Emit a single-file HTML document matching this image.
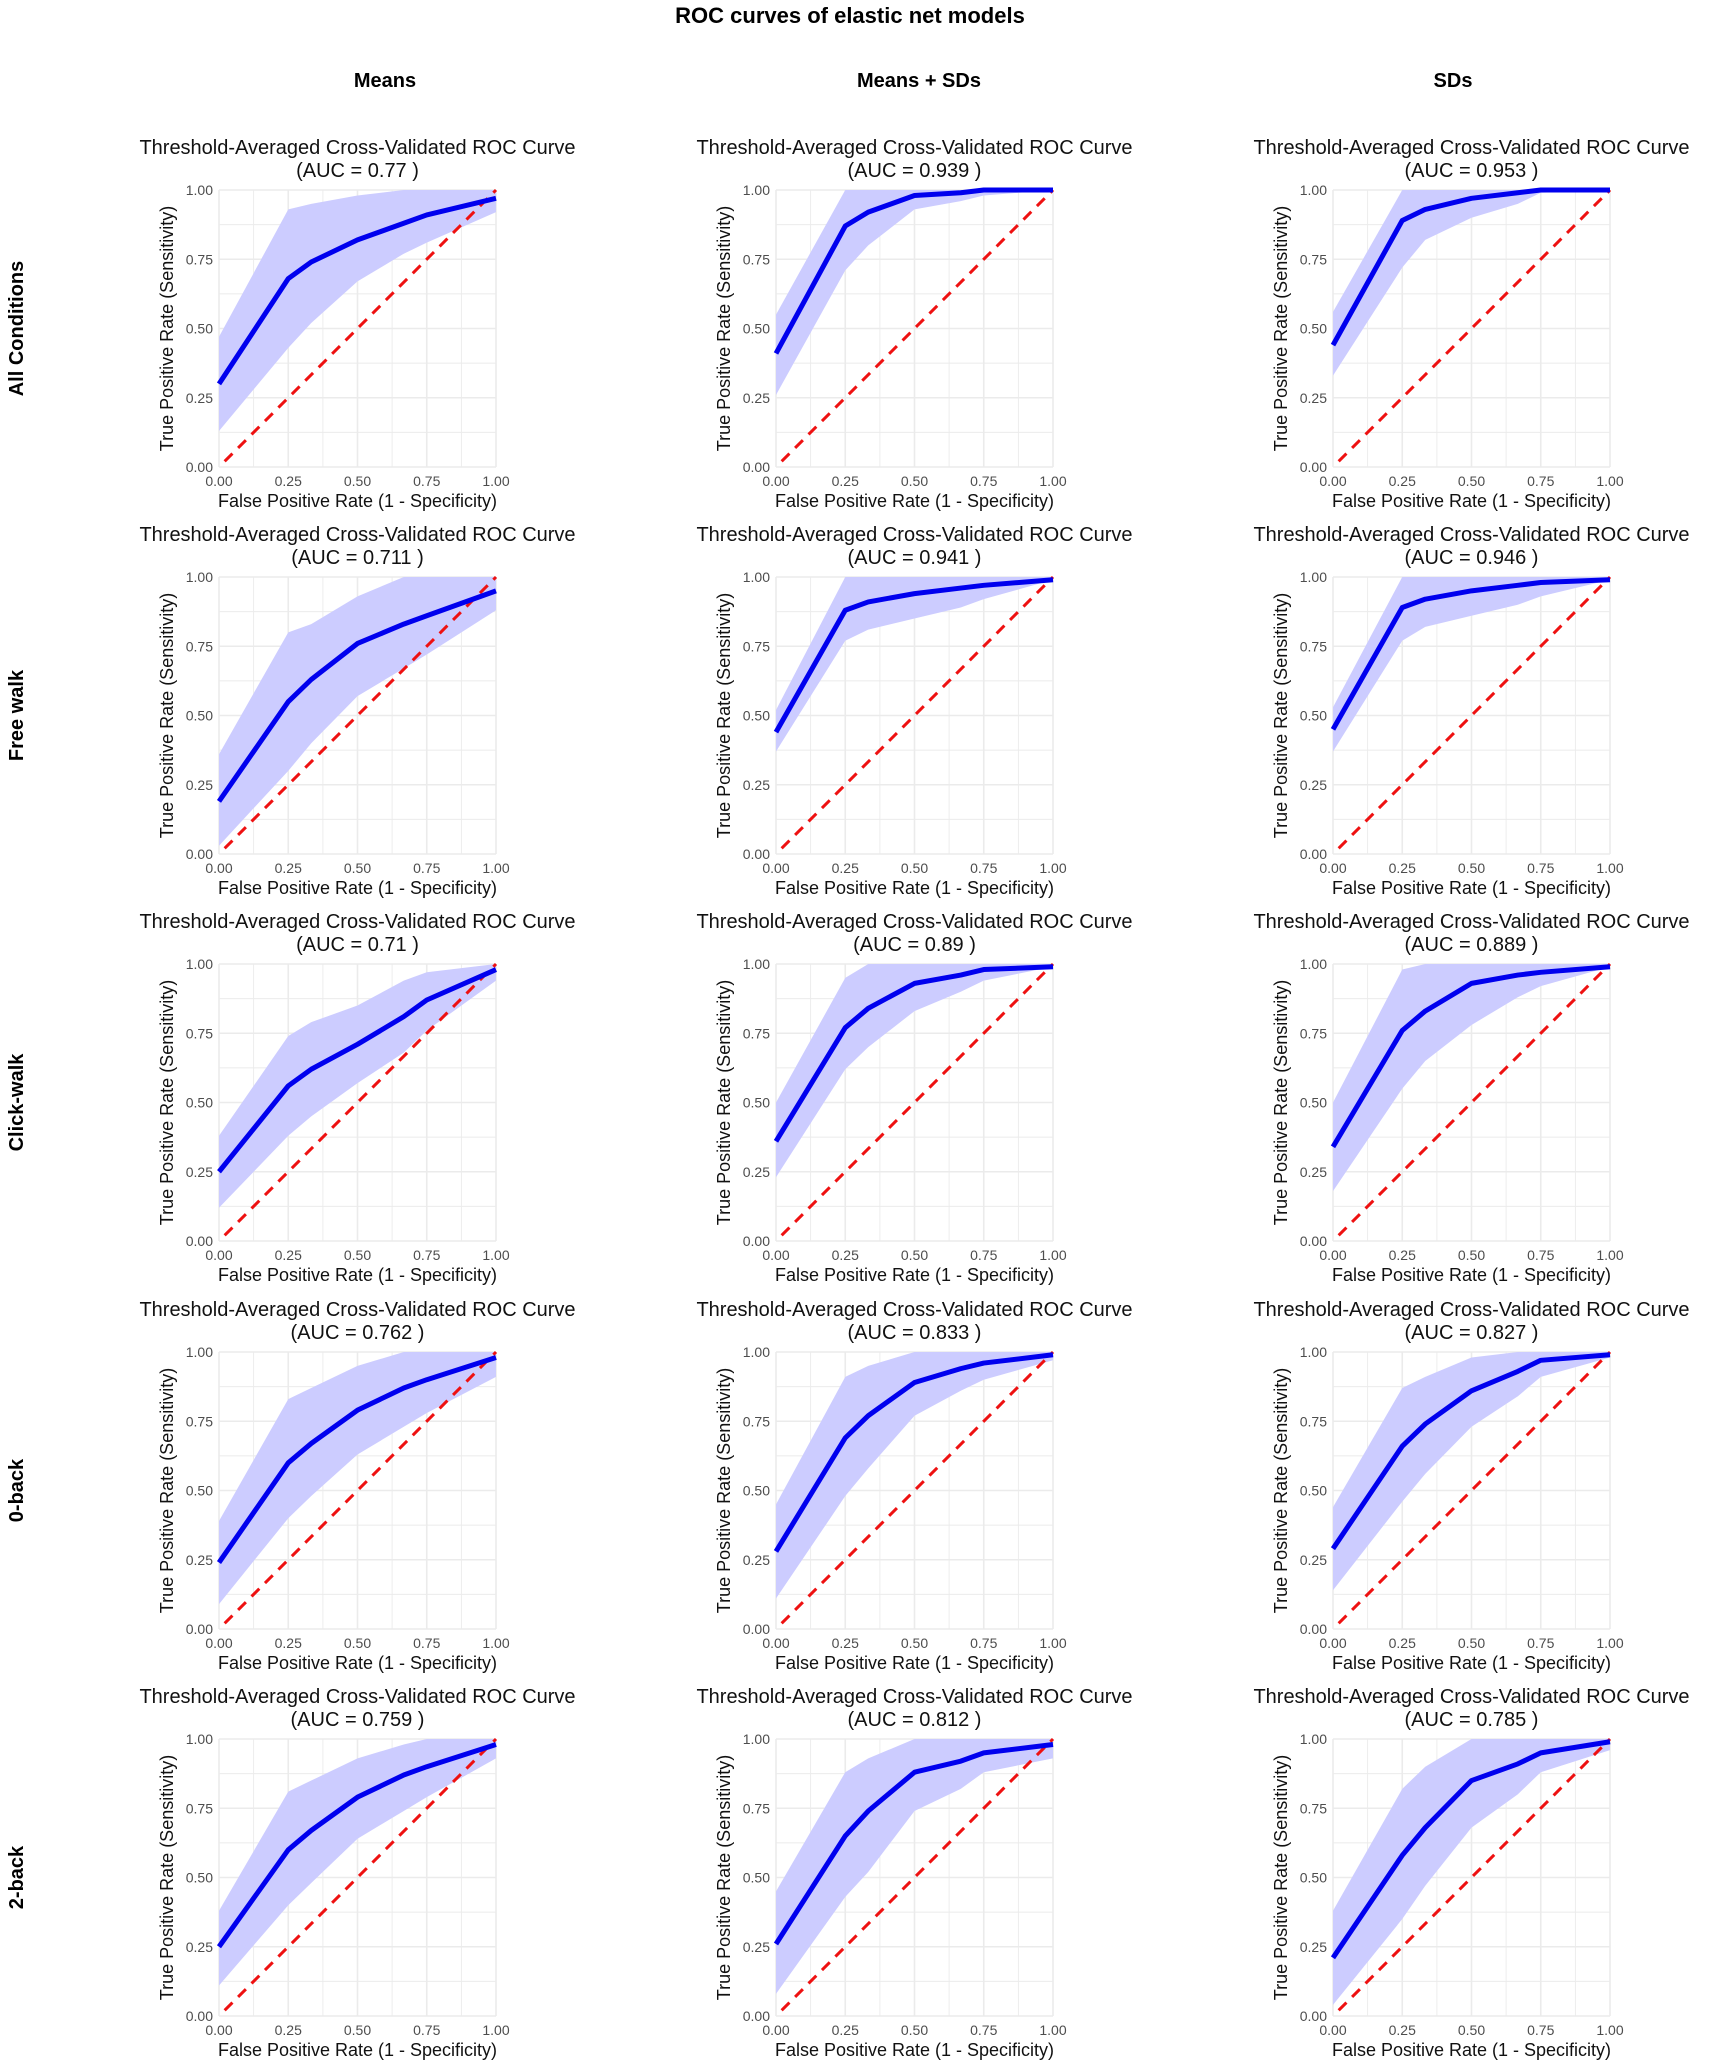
<!DOCTYPE html>
<html><head><meta charset="utf-8"><style>
html,body{margin:0;padding:0;background:#fff;}
svg{display:block;font-family:"Liberation Sans",Arial,sans-serif;}
</style></head><body>
<svg id="chart" width="1712" height="2070" viewBox="0 0 1712 2070" xmlns="http://www.w3.org/2000/svg">
<rect width="1712" height="2070" fill="#fff"/>
<text x="850" y="23" font-size="22" font-weight="bold" text-anchor="middle">ROC curves of elastic net models</text>
</svg>
<script>
const colLabels = ["Means", "Means + SDs", "SDs"];
const rowLabels = ["All Conditions", "Free walk", "Click-walk", "0-back", "2-back"];
const fpr = [0, 0.25, 0.333, 0.5, 0.667, 0.75, 1];
const xTicks = ["0.00", "0.25", "0.50", "0.75", "1.00"];
const yTicks = ["0.00", "0.25", "0.50", "0.75", "1.00"];
const aucs = ["0.77","0.939","0.953","0.711","0.941","0.946","0.71","0.89","0.889","0.762","0.833","0.827","0.759","0.812","0.785"];
const tprMean = [
 [.30,.68,.74,.82,.88,.91,.97],[.41,.87,.92,.98,.99,1,1],[.44,.89,.93,.97,.99,1,1],
 [.19,.55,.63,.76,.83,.86,.95],[.44,.88,.91,.94,.96,.97,.99],[.45,.89,.92,.95,.97,.98,.99],
 [.25,.56,.62,.71,.81,.87,.98],[.36,.77,.84,.93,.96,.98,.99],[.34,.76,.83,.93,.96,.97,.99],
 [.24,.60,.67,.79,.87,.90,.98],[.28,.69,.77,.89,.94,.96,.99],[.29,.66,.74,.86,.93,.97,.99],
 [.25,.60,.67,.79,.87,.90,.98],[.26,.65,.74,.88,.92,.95,.98],[.21,.58,.68,.85,.91,.95,.99]];
const tprUpper = [
 [.47,.93,.95,.98,1,1,1],[.55,1,1,1,1,1,1],[.56,1,1,1,1,1,1],
 [.36,.80,.83,.93,1,1,1],[.52,1,1,1,1,1,1],[.53,1,1,1,1,1,1],
 [.38,.74,.79,.85,.94,.97,1],[.50,.95,1,1,1,1,1],[.50,.98,1,1,1,1,1],
 [.39,.83,.87,.95,1,1,1],[.45,.91,.95,1,1,1,1],[.44,.87,.91,.98,1,1,1],
 [.38,.81,.85,.93,.98,1,1],[.45,.88,.93,1,1,1,1],[.38,.82,.90,1,1,1,1]];
const tprLower = [
 [.13,.43,.52,.67,.77,.81,.92],[.26,.71,.80,.93,.96,.98,1],[.33,.72,.82,.90,.95,.99,1],
 [.03,.30,.40,.57,.67,.72,.88],[.37,.77,.81,.85,.89,.92,.99],[.37,.77,.82,.86,.90,.93,.99],
 [.12,.38,.45,.57,.68,.76,.94],[.23,.62,.70,.83,.90,.94,.99],[.18,.55,.65,.78,.88,.92,.99],
 [.09,.40,.48,.63,.73,.78,.91],[.11,.48,.58,.77,.86,.90,.97],[.14,.46,.56,.73,.84,.91,.98],
 [.11,.40,.48,.64,.74,.79,.93],[.08,.43,.52,.74,.82,.88,.93],[.04,.35,.47,.68,.80,.88,.96]];

const NS = "http://www.w3.org/2000/svg";
const svg = document.getElementById("chart");
const colLeft = [219, 776, 1333];
const colHeaderX = [385, 919, 1453];
const rowTop = [190, 577, 964, 1352, 1739];
const W = 277, H = 277;
function mk(tag, attrs, parent) {
  const e = document.createElementNS(NS, tag);
  for (const k in attrs) e.setAttribute(k, attrs[k]);
  (parent || svg).appendChild(e);
  return e;
}
colLabels.forEach((c, i) => {
  const t = mk("text", {x: colHeaderX[i], y: 87, "font-size": 20, "font-weight": "bold", "text-anchor": "middle"});
  
  
  t.textContent = c;
});
rowLabels.forEach((r, i) => {
  const cy = rowTop[i] + H/2;
  const t = mk("text", {x: 0, y: 0, transform: `translate(23,${cy}) rotate(-90)`, "font-size": 20, "font-weight": "bold", "text-anchor": "middle"});
  
  
  t.textContent = r;
});
for (let r = 0; r < 5; r++) for (let c = 0; c < 3; c++) {
  const k = r*3 + c;
  const L = colLeft[c], T = rowTop[r];
  const sx = v => L + v*W, sy = v => T + H - v*H;
  const g = mk("g", {});
  
  
  const t1 = mk("text", {x: L + W/2, y: T - 36, "font-size": 20, "text-anchor": "middle", fill: "#111"}, g);
  
  
  t1.textContent = "Threshold-Averaged Cross-Validated ROC Curve";
  const t2 = mk("text", {x: L + W/2, y: T - 13, "font-size": 20, "text-anchor": "middle", fill: "#111"}, g);
  
  
  t2.textContent = "(AUC = " + aucs[k] + " )";
  for (let i = 0; i <= 8; i++) {
    const v = i/8, major = i % 2 === 0;
    mk("line", {x1: sx(v), x2: sx(v), y1: T, y2: T+H, stroke: "#ebebeb", "stroke-width": major ? 1.6 : 0.9}, g);
    mk("line", {x1: L, x2: L+W, y1: sy(v), y2: sy(v), stroke: "#ebebeb", "stroke-width": major ? 1.6 : 0.9}, g);
  }
  xTicks.forEach((s, i) => {
    const tx = mk("text", {x: sx(i/4), y: T + H + 19, "font-size": 14, fill: "#4d4d4d", "text-anchor": "middle"}, g);
    
    
    tx.textContent = s;
  });
  yTicks.forEach((s, i) => {
    const ty = mk("text", {x: L - 6, y: sy(i/4) + 5, "font-size": 14, fill: "#4d4d4d", "text-anchor": "end"}, g);
    
    
    ty.textContent = s;
  });
  const xt = mk("text", {x: L + W/2, y: T + H + 40, "font-size": 18, "text-anchor": "middle", fill: "#111"}, g);
  
  
  xt.textContent = "False Positive Rate (1 - Specificity)";
  const yt = mk("text", {x: 0, y: 0, transform: `translate(${L-46},${T+H/2}) rotate(-90)`, "font-size": 18, "text-anchor": "middle", fill: "#111"}, g);
  
  
  yt.textContent = "True Positive Rate (Sensitivity)";
  let d = fpr.map((f, i) => (i ? "L" : "M") + sx(f) + "," + sy(tprUpper[k][i])).join("");
  for (let i = fpr.length - 1; i >= 0; i--) d += "L" + sx(fpr[i]) + "," + sy(tprLower[k][i]);
  const rib = mk("path", {d: d + "Z", fill: "#ccccff"}, g);
  
  
  const diag = mk("line", {x1: sx(0), y1: sy(0), x2: sx(1), y2: sy(1), stroke: "#ee1111", "stroke-width": 3, "stroke-dasharray": "11 8", "stroke-dashoffset": "-8"}, g);
  
  
  const ln = mk("polyline", {points: fpr.map((f, i) => sx(f) + "," + sy(tprMean[k][i])).join(" "), fill: "none", stroke: "#0000ee", "stroke-width": 5, "stroke-linejoin": "round"}, g);
  
  
}
</script>
</body></html>
